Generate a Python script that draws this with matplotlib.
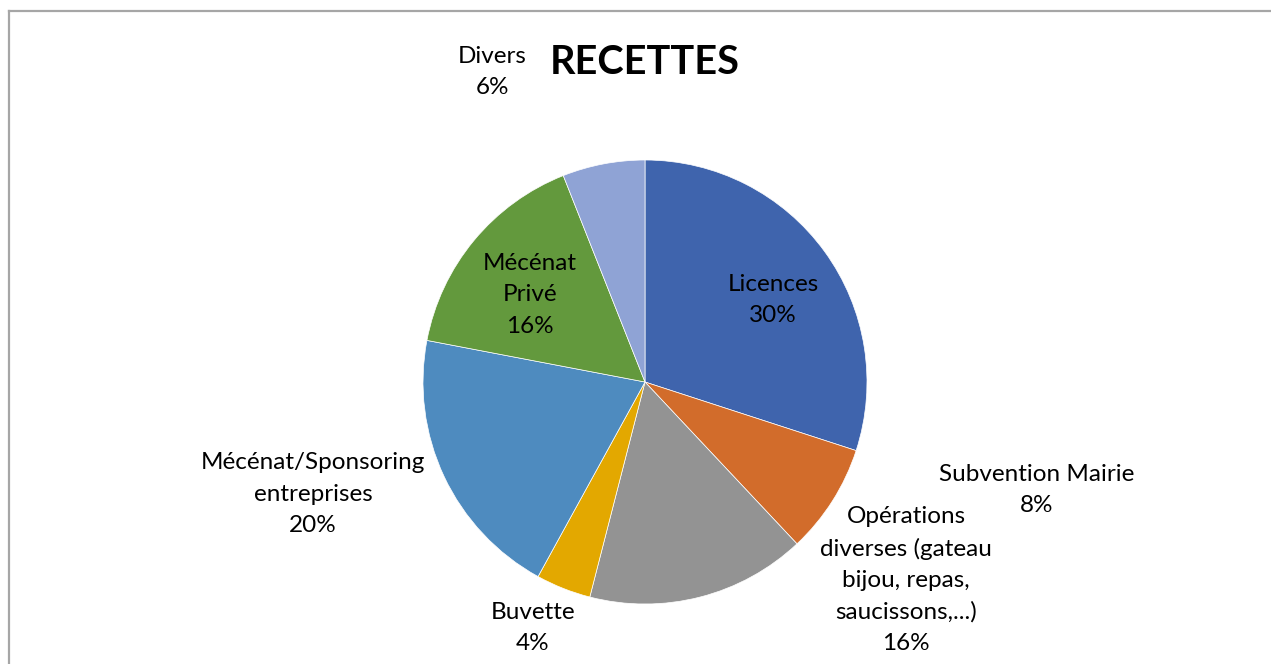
import matplotlib.pyplot as plt
from matplotlib.lines import Line2D

plt.rcParams['font.family'] = ['Lato', 'DejaVu Sans']

# data
categories = ["Licences", "Subvention Mairie",
              "Opérations\ndiverses (gateau\nbijou, repas,\nsaucissons,...)",
              "Buvette", "Mécénat/Sponsoring\nentreprises", "Mécénat\nPrivé", "Divers"]
shares = [30, 8, 16, 4, 20, 16, 6]
colors = ["#3F64AD", "#D26C2B", "#939393", "#E3A800", "#4E8BBF", "#63993D", "#8FA3D5"]

# label centres, in units of pie radius
label_pos = [(0.577, 0.37), (1.766, -0.486), (1.176, -0.892), (-0.505, -1.108),
             (-1.495, -0.505), (-0.518, 0.392), (-0.689, 1.396)]

W, H = 1271, 664
fig = plt.figure(figsize=(W / 100, H / 100), dpi=100)

cx, cy, r = 645, 382, 222
ax = fig.add_axes([(cx - r) / W, (H - cy - r) / H, 2 * r / W, 2 * r / H])
ax.pie(shares, colors=colors, startangle=90, counterclock=False, radius=1,
       wedgeprops=dict(edgecolor="white", linewidth=0.5))
ax.set_xlim(-1, 1)
ax.set_ylim(-1, 1)
ax.axis("off")

for name, val, (x, y) in zip(categories, shares, label_pos):
    ax.text(x, y, f"{name}\n{val}%", ha="center", va="center", fontsize=17.5,
            linespacing=1.6, color="#000000")

fig.text(645 / W, 1 - 62 / H, "RECETTES", ha="center", va="center",
         fontsize=28.5, fontweight="bold")

# chart frame (left and top edges visible)
fig.add_artist(Line2D([8.5 / W, 8.5 / W], [0, 1 - 11 / H], transform=fig.transFigure,
                      color="#A6A6A6", linewidth=1.6))
fig.add_artist(Line2D([8.5 / W, 1], [1 - 11 / H, 1 - 11 / H], transform=fig.transFigure,
                      color="#A6A6A6", linewidth=1.6))

fig.savefig("out.png", dpi=100)
